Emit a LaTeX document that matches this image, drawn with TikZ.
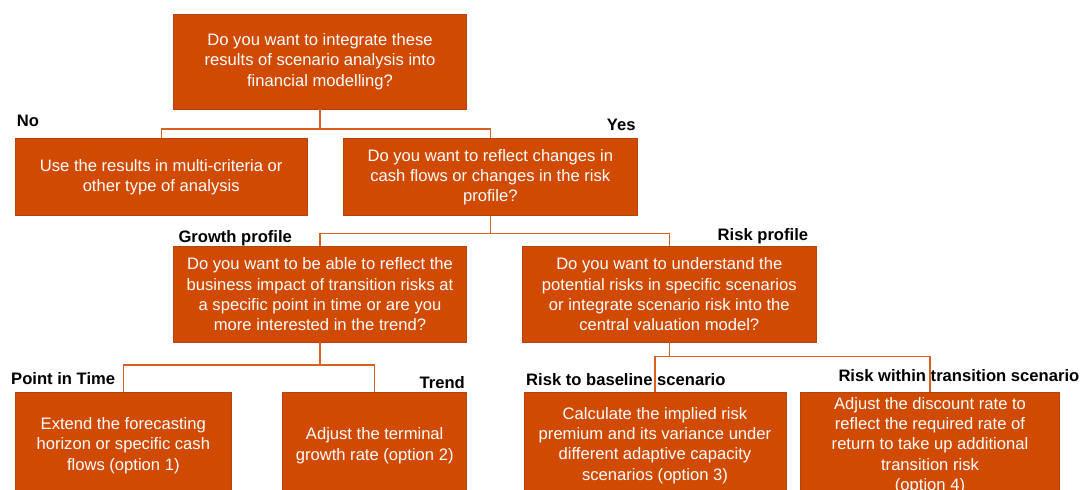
\documentclass[tikz,border=0pt]{standalone}
\usepackage{fontspec}
\setmainfont{Liberation Sans}
\definecolor{boxfill}{HTML}{D04A02}
\definecolor{boxline}{HTML}{B4440C}
\definecolor{connline}{HTML}{D9611F}
\tikzset{
  qbox/.style={rectangle, fill=boxfill, draw=boxline, line width=0.8pt,
    inner sep=0pt, align=center, text=white,
    font=\fontsize{16.6}{20.3}\selectfont},
  lbl/.style={inner sep=0pt, font=\fontsize{16.6}{20}\selectfont\bfseries, text=black},
  conn/.style={draw=connline, line width=1.2pt}
}
\begin{document}
\begin{tikzpicture}[x=1pt,y=-1pt]
\useasboundingbox (0,0) rectangle (1082,490);
\clip (0,0) rectangle (1082,490);
\fill[white] (0,0) rectangle (1082,490);

% boxes
\node[qbox, minimum width=293.4pt, minimum height=95pt] (q1) at (320,61.5)
  {Do you want to integrate these\\results of scenario analysis into\\financial modelling?};
\node[qbox, minimum width=292.3pt, minimum height=77.7pt] (no) at (161.2,176.9)
  {Use the results in multi-criteria or\\other type of analysis};
\node[qbox, minimum width=294pt, minimum height=77pt] (yes) at (490.3,177.2)
  {Do you want to reflect changes in\\cash flows or changes in the risk\\profile?};
\node[qbox, minimum width=293.4pt, minimum height=95.3pt] (grow) at (320,294.3)
  {Do you want to be able to reflect the\\business impact of transition risks at\\a specific point in time or are you\\more interested in the trend?};
\node[qbox, minimum width=293.3pt, minimum height=95.3pt] (risk) at (669.3,294.3)
  {Do you want to understand the\\potential risks in specific scenarios\\or integrate scenario risk into the\\central valuation model?};
\node[qbox, minimum width=216.7pt, minimum height=107pt] (pit) at (123.3,445.5)
  {Extend the forecasting\\horizon or specific cash\\flows (option 1)};
\node[qbox, minimum width=184pt, minimum height=107pt] (trend) at (374.7,445.8)
  {Adjust the terminal\\growth rate (option 2)};
\node[qbox, minimum width=262pt, minimum height=107pt] (base) at (655,445.5)
  {Calculate the implied risk\\premium and its variance under\\different adaptive capacity\\scenarios (option 3)};
\node[qbox, minimum width=258.6pt, minimum height=107pt] (within) at (930,445.5)
  {Adjust the discount rate to\\reflect the required rate of\\return to take up additional\\transition risk\\(option 4)};

% labels
\node[lbl, anchor=base west] (lno) at (16.7,126.7) {No};
\node[lbl, anchor=base east] (lyes) at (635.7,130) {Yes};
\node[lbl, anchor=base west] (lgrow) at (178.3,242.7) {Growth profile};
\node[lbl, anchor=base east] (lrisk) at (808.3,240) {Risk profile};
\node[lbl, anchor=base west] (lpit) at (11,384) {Point in Time};
\node[lbl, anchor=base east] (ltrend) at (465,388.3) {Trend};
\node[lbl, anchor=base west] (lbase) at (526,385) {Risk to baseline scenario};
\node[lbl, anchor=base west] (lwithin) at (838.3,381.7) {Risk within transition scenario};

% junctions
\coordinate (j1) at (320,129);
\coordinate (j2) at (490.3,233.5);
\coordinate (j3) at (320,365);
\coordinate (j4) at (669.3,356.7);

% connectors
\draw[conn] (q1.south) -- (j1) -| (no.north);
\draw[conn] (j1) -| (yes.north);
\draw[conn] (yes.south) -- (j2) -| (grow.north);
\draw[conn] (j2) -| (risk.north);
\draw[conn] (grow.south) -- (j3) -| (pit.north);
\draw[conn] (j3) -| (trend.north);
\draw[conn] (risk.south) -- (j4) -| (base.north);
\draw[conn] (j4) -| (within.north);
\end{tikzpicture}
\end{document}
